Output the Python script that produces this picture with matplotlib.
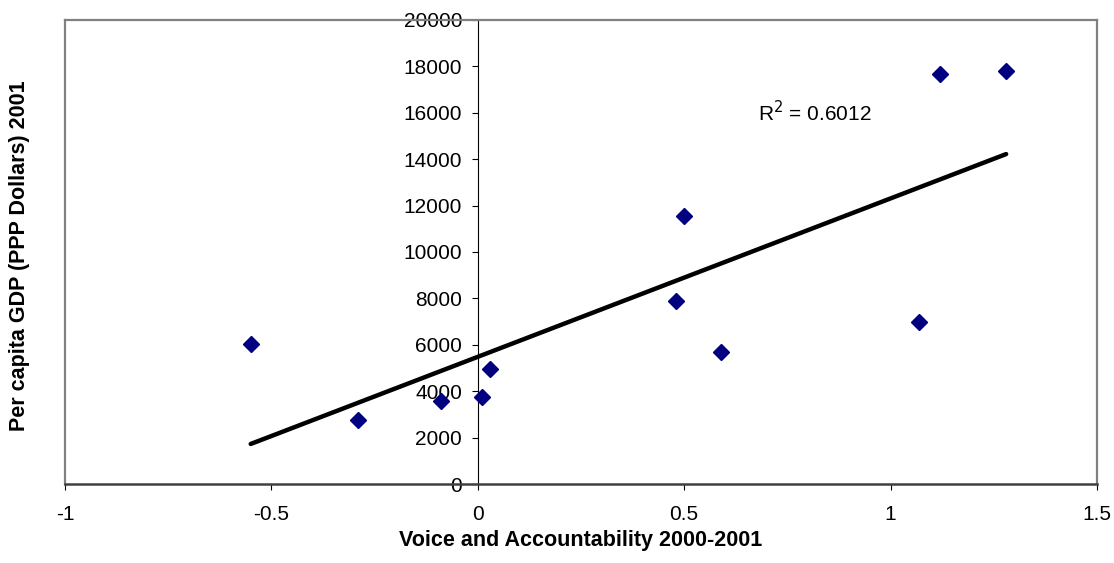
import numpy as np
import matplotlib
matplotlib.use('Agg')
from matplotlib import pyplot as plt

plt.rcParams['font.family'] = ['Liberation Sans', 'DejaVu Sans']

# Voice and Accountability vs per capita GDP
voice = [-0.55, -0.29, -0.09, 0.01, 0.03, 0.48, 0.50, 0.59, 1.07, 1.12, 1.28]
gdp = [6050, 2750, 3570, 3770, 4950, 7880, 11540, 5680, 6990, 17660, 17790]

x_ticks = [-1, -0.5, 0, 0.5, 1, 1.5]
x_tick_labels = ['-1', '-0.5', '0', '0.5', '1', '1.5']
y_ticks = list(range(0, 20001, 2000))

fig = plt.figure(figsize=(11.14, 5.63), dpi=100)
ax = fig.add_axes([0.0583, 0.1403, 0.9264, 0.8242])

# Linear trendline fitted to the points
slope, intercept = np.polyfit(voice, gdp, 1)
line_x = np.array([min(voice), max(voice)])
ax.plot(line_x, slope * line_x + intercept, color='black', lw=3.2,
        solid_capstyle='round', zorder=2)

ax.plot(voice, gdp, linestyle='none', marker='D', markersize=8,
        color='#000080', zorder=3)

ax.text(0.68, 16000, r'R$^2$ = 0.6012', fontsize=15, va='center', ha='left')

ax.set_xlim(-1, 1.5)
ax.set_ylim(0, 20000)
ax.set_xticks(x_ticks)
ax.set_xticklabels(x_tick_labels)
ax.set_yticks(y_ticks)

# frame is grey, the y axis sits at x = 0
for side in ['top', 'right']:
    ax.spines[side].set_color('#808080')
    ax.spines[side].set_linewidth(1.6)
ax.spines['bottom'].set_color('#404040')
ax.spines['bottom'].set_linewidth(1.8)
ax.spines['left'].set_position(('data', 0))
ax.spines['left'].set_color('black')
ax.spines['left'].set_linewidth(0.8)
ax.plot([0, 0], [0, 1], transform=ax.transAxes, color='#808080', lw=1.6,
        clip_on=False, zorder=1)

ax.tick_params(axis='both', labelsize=15, direction='out', color='black',
               length=4.3, width=0.8)
ax.tick_params(axis='x', pad=11)
ax.tick_params(axis='y', pad=7)

fig.text(0.521, 0.022, 'Voice and Accountability 2000-2001', fontsize=15.5,
         fontweight='bold', ha='center', va='bottom')
fig.text(0.008, 0.545, 'Per capita GDP (PPP Dollars) 2001', fontsize=15.5,
         fontweight='bold', ha='left', va='center', rotation=90)

fig.savefig('out.png', dpi=100)
